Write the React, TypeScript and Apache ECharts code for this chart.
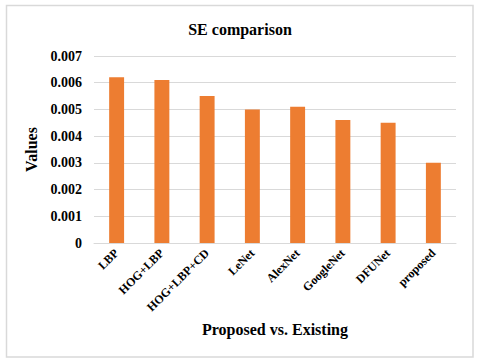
import React, { useEffect, useRef } from "react";
import * as echarts from "echarts";

const categories = ["LBP", "HOG+LBP", "HOG+LBP+CD", "LeNet", "AlexNet", "GoogleNet", "DFUNet", "proposed"];
const seValues = [0.0062, 0.0061, 0.0055, 0.005, 0.0051, 0.0046, 0.0045, 0.003];
const titleText = "SE comparison";
const xAxisName = "Proposed vs. Existing";
const yAxisName = "Values";

const FONT = "'Liberation Serif', 'Times New Roman', serif";

export default function App() {
  const ref = useRef<HTMLDivElement>(null);
  useEffect(() => {
    document.body.style.margin = "0";
    const chart = echarts.init(ref.current!, null, { renderer: "svg" });
    chart.setOption({
      animation: false,
      backgroundColor: "#ffffff",
      title: {
        text: titleText,
        left: "center",
        top: 16,
        textStyle: { fontFamily: FONT, fontWeight: "bold", fontSize: 16, color: "#000" },
      },
      graphic: [
        {
          type: "rect",
          shape: { x: 6.5, y: 5.5, width: 466.5, height: 351.5 },
          style: { fill: "none", stroke: "#d9d9d9", lineWidth: 1.5 },
          silent: true,
        },
      ],
      grid: { left: 94, right: 24, top: 56, bottom: 120 },
      xAxis: {
        type: "category",
        data: categories,
        name: xAxisName,
        nameLocation: "middle",
        nameGap: 78,
        nameTextStyle: { fontFamily: FONT, fontWeight: "bold", fontSize: 16, color: "#000" },
        axisLine: { lineStyle: { color: "#d9d9d9", width: 1 } },
        axisTick: { show: false },
        axisLabel: {
          rotate: 45,
          interval: 0,
          margin: 8,
          fontFamily: FONT,
          fontWeight: "bold",
          fontSize: 12,
          color: "#000",
        },
      },
      yAxis: {
        type: "value",
        min: 0,
        max: 0.007,
        interval: 0.001,
        name: yAxisName,
        nameLocation: "middle",
        nameGap: 49,
        nameTextStyle: { fontFamily: FONT, fontWeight: "bold", fontSize: 16, color: "#000" },
        axisLine: { show: false },
        axisTick: { show: false },
        splitLine: { lineStyle: { color: "#d9d9d9", width: 1 } },
        axisLabel: {
          margin: 12,
          fontFamily: FONT,
          fontWeight: "bold",
          fontSize: 14,
          color: "#000",
          formatter: (v: number) => (v === 0 ? "0" : v.toFixed(3)),
        },
      },
      series: [
        {
          type: "bar",
          data: seValues,
          barWidth: "33%",
          itemStyle: { color: "#ED7D31" },
        },
      ],
    });
    return () => chart.dispose();
  }, []);
  return <div ref={ref} style={{ position: "absolute", left: 0, top: 0, width: 480, height: 363 }} />;
}
